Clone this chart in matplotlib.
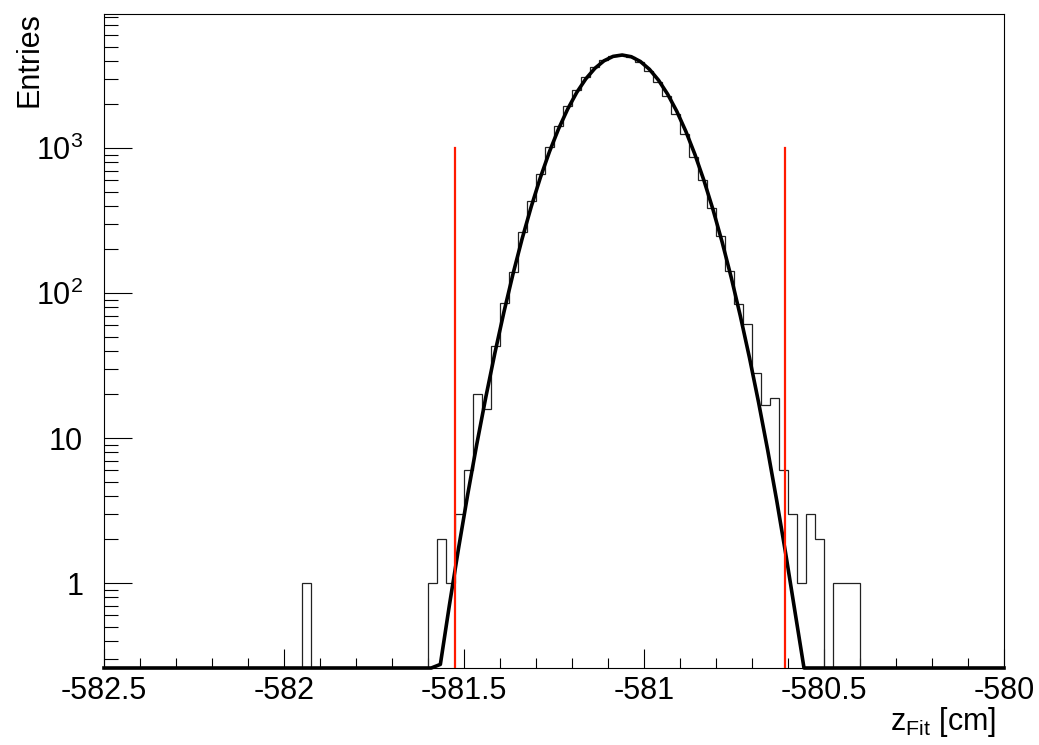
import numpy as np
import matplotlib
matplotlib.use("Agg")
import matplotlib.pyplot as plt
from matplotlib.ticker import MultipleLocator, FixedLocator, FixedFormatter, LogLocator, NullFormatter, FuncFormatter

plt.rcParams['font.family'] = ['Liberation Sans', 'DejaVu Sans']
plt.rcParams['mathtext.default'] = 'regular'

# histogram: 100 bins between -582.5 and -580 cm
x_min, x_max, n_bins = -582.5, -580.0, 100
# single outlier bin and the populated core (bins 36..83)
outlier_bin = 22
outlier_count = 1
core_first_bin = 36
core_counts = [1, 2, 1, 3, 6, 20, 16, 43, 86, 140,
               265, 430, 660, 1010, 1420, 1950, 2500, 3080, 3650, 4050,
               4300, 4390, 4230, 3900, 3420, 2870, 2270, 1720, 1250, 870,
               600, 386, 247, 142, 84, 61, 28, 17, 19, 6,
               3, 1, 3, 2, 0, 1, 1, 1]

# gaussian fit parameters
fit_const = 4380.0
fit_mean = -581.062
fit_sigma = 0.1145

# red cut lines
cut_lo = -581.524
cut_hi = -580.609
cut_top = 1000

y_min, y_max = 0.26, 8400

edges = np.linspace(x_min, x_max, n_bins + 1)
counts = np.zeros(n_bins)
counts[outlier_bin] = outlier_count
counts[core_first_bin:core_first_bin + len(core_counts)] = core_counts

fig = plt.figure(figsize=(10.39, 7.45), dpi=100)
ax = fig.add_axes([104 / 1039, (745 - 668) / 745, 900 / 1039, 654 / 745])

# histogram outline
ax.stairs(np.where(counts > 0, counts, 1e-3), edges, baseline=None,
          color='#222222', lw=0.9, zorder=2)

# fit function, drawn like ROOT with 100 points and clipped to the frame
fx = np.linspace(x_min, x_max, 100)
fy = fit_const * np.exp(-0.5 * ((fx - fit_mean) / fit_sigma) ** 2)
fy = np.clip(fy, y_min, y_max)
ax.plot(fx, fy, color='black', lw=2.6, zorder=3, clip_on=False,
        solid_joinstyle='round')

# cut lines
for xc in (cut_lo, cut_hi):
    ax.plot([xc, xc], [y_min, cut_top], color='#ff1a00', lw=1.6, zorder=4)

ax.set_yscale('log')
ax.set_xlim(x_min, x_max)
ax.set_ylim(y_min, y_max)

ax.xaxis.set_major_locator(MultipleLocator(0.5))
ax.xaxis.set_minor_locator(MultipleLocator(0.1))
ax.xaxis.set_major_formatter(FuncFormatter(lambda v, p: '%g' % v))

ax.yaxis.set_major_locator(FixedLocator([1, 10, 100, 1000]))
ax.yaxis.set_major_formatter(FixedFormatter(['1', '10', '$10^{2}$', '$10^{3}$']))
ax.yaxis.set_minor_locator(LogLocator(base=10, subs=np.arange(2, 10), numticks=20))
ax.yaxis.set_minor_formatter(NullFormatter())

ax.tick_params(axis='x', which='major', direction='in', length=14, width=0.8,
               labelsize=22, pad=6)
ax.tick_params(axis='x', which='minor', direction='in', length=7, width=0.8)
ax.tick_params(axis='y', which='major', direction='in', length=20, width=0.8,
               labelsize=22, pad=15)
ax.tick_params(axis='y', which='minor', direction='in', length=10, width=0.8)

for s in ax.spines.values():
    s.set_linewidth(0.8)

fig.text(30 / 1039, 1 - 12 / 745, 'Entries', rotation=90, ha='center', va='top',
         fontsize=22)
fig.text(996 / 1039, 1 - 722 / 745, r'$z_{Fit}$ [cm]', ha='right', va='center',
         fontsize=22)

fig.savefig('out.png', dpi=100)
